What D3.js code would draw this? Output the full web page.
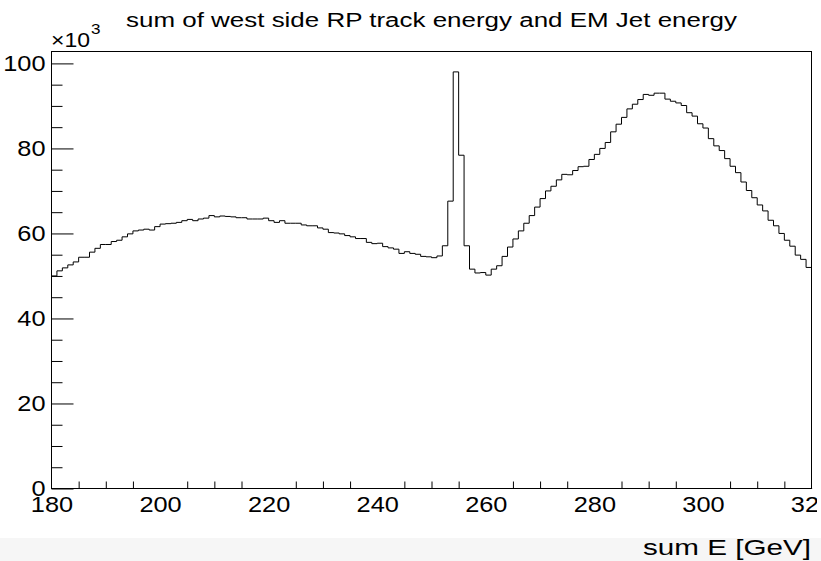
<!DOCTYPE html>
<html>
<head>
<meta charset="utf-8">
<script src="https://cdn.jsdelivr.net/npm/d3@7"></script>
<style>
  body { margin: 0; background: #fff; }
  text { font-family: "Liberation Sans", Arial, Helvetica, sans-serif; fill: #000; }
</style>
</head>
<body>
<svg id="svg_hist"></svg>
<script>
let width = 821;
let height = 561;

// histogram: 140 bins of 1 GeV from 180 to 320, counts
let binLow = 180;
let binWidth = 1;
let counts = [
    50.0, 51.2, 51.9, 52.6, 53.3, 54.4, 54.4, 55.6, 56.5, 57.4,
    57.4, 58.1, 58.4, 59.2, 59.9, 60.6, 60.8, 61.0, 60.8, 61.6,
    62.2, 62.3, 62.4, 62.6, 63.0, 63.3, 63.0, 63.4, 63.6, 64.2,
    63.9, 64.1, 64.0, 63.9, 63.7, 63.7, 63.4, 63.4, 63.4, 63.6,
    63.0, 62.6, 63.0, 62.4, 62.4, 62.4, 62.0, 61.8, 61.8, 61.3,
    61.0, 60.2, 60.1, 59.9, 59.5, 59.2, 58.8, 58.8, 57.9, 57.6,
    57.7, 56.9, 56.6, 56.3, 55.3, 55.7, 55.3, 55.1, 54.6, 54.5,
    54.3, 54.7, 57.1, 67.6, 98.0, 78.4, 57.1, 51.6, 50.7, 50.8,
    50.2, 51.6, 52.4, 54.6, 56.8, 58.7, 60.6, 62.4, 64.2, 66.2,
    68.2, 70.0, 71.1, 72.6, 73.9, 73.8, 74.8, 75.7, 75.8, 77.4,
    78.6, 80.0, 81.4, 83.9, 85.7, 87.3, 89.3, 90.4, 91.5, 92.7,
    92.5, 93.0, 93.0, 91.6, 91.1, 90.7, 90.1, 88.4, 87.6, 85.8,
    84.8, 82.3, 80.6, 79.5, 77.6, 75.8, 74.3, 72.1, 70.1, 68.4,
    66.7, 65.3, 63.1, 61.8, 60.0, 58.4, 57.0, 54.9, 53.9, 52.0
].map(v => v * 1000);

let xMajorTicks = [180, 200, 220, 240, 260, 280, 300, 320];
let yMajorTicks = [0, 20000, 40000, 60000, 80000, 100000];
let title = "sum of west side RP track energy and EM Jet energy";
let xTitle = "sum E [GeV]";

let svg = d3.select("#svg_hist")
    .attr("width", width)
    .attr("height", height);

// grey strip at the bottom of the window
svg.append("rect")
    .attr("x", 0).attr("y", 538)
    .attr("width", width).attr("height", height - 538)
    .attr("fill", "#f6f6f6");

let x = d3.scaleLinear().domain([180, 320]).range([51.5, 811.5]);
let y = d3.scaleLinear().domain([0, 102800]).range([488.5, 51.5]);

// minor ticks
let xMinor = d3.range(180, 321, 5).filter(v => v % 20 !== 0);
let yMinor = d3.range(0, 102001, 5000).filter(v => v % 20000 !== 0);

let xAxisMinor = svg.append("g")
    .attr("transform", "translate(0," + y(0) + ")")
    .call(d3.axisBottom(x).tickValues(xMinor).tickSize(-7).tickSizeOuter(0).tickFormat(""));
let yAxisMinor = svg.append("g")
    .attr("transform", "translate(" + x(180) + ",0)")
    .call(d3.axisLeft(y).tickValues(yMinor).tickSize(-11).tickSizeOuter(0).tickFormat(""));

svg.append("clipPath").attr("id", "clipPage")
    .append("rect").attr("x", 0).attr("y", 0).attr("width", 817).attr("height", height);

let xAxis = svg.append("g")
    .attr("transform", "translate(0," + y(0) + ")")
    .attr("clip-path", "url(#clipPage)")
    .call(d3.axisBottom(x).tickValues(xMajorTicks).tickSize(-14).tickSizeOuter(0).tickPadding(8)
        .tickFormat(d3.format("d")));
let yAxis = svg.append("g")
    .attr("transform", "translate(" + x(180) + ",0)")
    .call(d3.axisLeft(y).tickValues(yMajorTicks).tickSize(-22).tickSizeOuter(0).tickPadding(6)
        .tickFormat(d => d / 1000));

[xAxisMinor, yAxisMinor, xAxis, yAxis].forEach(function (g) {
    g.select(".domain").remove();
    g.selectAll(".tick line").attr("stroke", "#000");
});
[xAxis, yAxis].forEach(function (g) {
    g.selectAll(".tick text")
        .attr("font-size", 22)
        .attr("font-family", "Liberation Sans, Arial, sans-serif")
        .attr("fill", "#000")
        .attr("textLength", function () { return this.textContent.length * 14.1; })
        .attr("lengthAdjust", "spacingAndGlyphs");
});

// histogram outline
let steps = counts.map((c, i) => [binLow + i * binWidth, c]);
steps.push([binLow + counts.length * binWidth, counts[counts.length - 1]]);
let line = d3.line()
    .x(d => x(d[0]))
    .y(d => y(d[1]))
    .curve(d3.curveStepAfter);
svg.append("path")
    .datum(steps)
    .attr("d", line)
    .attr("fill", "none")
    .attr("stroke", "#000")
    .attr("stroke-width", 1);

// frame
svg.append("rect")
    .attr("x", x(180)).attr("y", y(102800))
    .attr("width", x(320) - x(180)).attr("height", y(0) - y(102800))
    .attr("fill", "none")
    .attr("stroke", "#000")
    .attr("stroke-width", 1);

// exponent label
svg.append("text")
    .attr("x", 51).attr("y", 46.5)
    .attr("font-size", 20)
    .attr("textLength", 39)
    .attr("lengthAdjust", "spacingAndGlyphs")
    .text("×10");
svg.append("text")
    .attr("x", 91).attr("y", 34)
    .attr("font-size", 15)
    .attr("textLength", 9.5)
    .attr("lengthAdjust", "spacingAndGlyphs")
    .text("3");

// title
svg.append("text")
    .attr("x", 126).attr("y", 27)
    .attr("font-size", 20)
    .attr("textLength", 611)
    .attr("lengthAdjust", "spacingAndGlyphs")
    .text(title);

// x axis title
svg.append("text")
    .attr("x", 811).attr("y", 555)
    .attr("text-anchor", "end")
    .attr("font-size", 22)
    .attr("textLength", 168)
    .attr("lengthAdjust", "spacingAndGlyphs")
    .text(xTitle);
</script>
</body>
</html>
